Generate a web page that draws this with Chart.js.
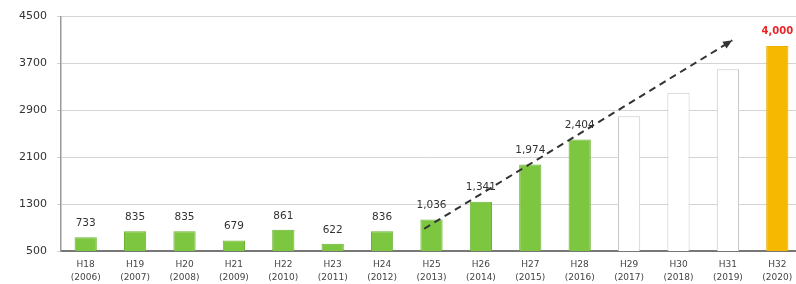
<!DOCTYPE html>
<html>
<head>
<meta charset="utf-8">
<script src="https://cdn.jsdelivr.net/npm/chart.js@4/dist/chart.umd.min.js"></script>
<style>
    html, body { margin: 0; padding: 0; background: #fff; overflow: hidden; }
    #wrap { width: 802px; height: 284px; }
</style>
</head>
<body>
<div id="wrap"><canvas id="stat-bar" width="802" height="284"></canvas></div>
<script>
// fiscal year (Heisei) + western year
const eras = ['H18', 'H19', 'H20', 'H21', 'H22', 'H23', 'H24', 'H25', 'H26', 'H27', 'H28', 'H29', 'H30', 'H31', 'H32'];
const years = ['(2006)', '(2007)', '(2008)', '(2009)', '(2010)', '(2011)', '(2012)', '(2013)', '(2014)', '(2015)', '(2016)', '(2017)', '(2018)', '(2019)', '(2020)'];
const values = [733, 835, 835, 679, 861, 622, 836, 1036, 1341, 1974, 2404, 2800, 3200, 3600, 4000];
const kinds = ['actual', 'actual', 'actual', 'actual', 'actual', 'actual', 'actual', 'actual', 'actual', 'actual', 'actual', 'plan', 'plan', 'plan', 'target'];
const yTicks = [500, 1300, 2100, 2900, 3700, 4500];

// dashed trend arrow (x in category index units)
const trendX = [6.83, 13.96];
const trendY = [880, 4095];

const fill = { actual: '#7dc63f', plan: '#ffffff', target: '#f6b800' };
const edge = { actual: '#6cb233', plan: '#c9c9c9', target: '#e9ad00' };

const valueLabels = {
    id: 'valueLabels',
    afterDatasetsDraw(chart) {
        const ctx = chart.ctx;
        const meta = chart.getDatasetMeta(0);
        ctx.save();
        ctx.textAlign = 'center';
        ctx.textBaseline = 'middle';
        meta.data.forEach((bar, i) => {
            if (kinds[i] === 'plan') return;
            if (kinds[i] === 'target') {
                ctx.font = 'bold 10px "DejaVu Sans"';
                ctx.fillStyle = '#e8262a';
            } else {
                ctx.font = '10.5px "DejaVu Sans"';
                ctx.fillStyle = '#333';
            }
            ctx.fillText(values[i].toLocaleString('en-US'), bar.x, bar.y - 14);
        });

        // arrow head on the trend line
        const pts = chart.getDatasetMeta(1).data;
        const a = pts[0], b = pts[pts.length - 1];
        const ang = Math.atan2(b.y - a.y, b.x - a.x);
        ctx.fillStyle = '#333';
        ctx.beginPath();
        ctx.moveTo(b.x, b.y);
        ctx.lineTo(b.x - 10 * Math.cos(ang - 0.4), b.y - 10 * Math.sin(ang - 0.4));
        ctx.lineTo(b.x - 10 * Math.cos(ang + 0.4), b.y - 10 * Math.sin(ang + 0.4));
        ctx.closePath();
        ctx.fill();
        ctx.restore();
    }
};

window.addEventListener('load', function() {
    const ctx = document.getElementById('stat-bar').getContext('2d');
    new Chart(ctx, {
        type: 'bar',
        data: {
            labels: eras.map((e, i) => [e, years[i]]),
            datasets: [
                {
                    type: 'bar',
                    data: values,
                    backgroundColor: kinds.map(k => fill[k]),
                    borderColor: kinds.map(k => edge[k]),
                    borderWidth: 1,
                    borderSkipped: 'bottom',
                    grouped: false,
                    barPercentage: 0.45,
                    categoryPercentage: 1,
                    order: 2
                },
                {
                    type: 'line',
                    xAxisID: 'xt',
                    data: trendX.map((x, i) => ({ x: x, y: trendY[i] })),
                    borderColor: '#333',
                    borderWidth: 2,
                    borderDash: [7, 5],
                    pointRadius: 0,
                    fill: false,
                    order: 1
                }
            ]
        },
        options: {
            responsive: false,
            animation: false,
            layout: { padding: { top: 14, right: 0, bottom: 0, left: 0 } },
            plugins: {
                legend: { display: false },
                tooltip: { enabled: false }
            },
            scales: {
                x: {
                    offset: true,
                    grid: { display: false, drawTicks: false },
                    border: { color: '#777', width: 2 },
                    ticks: {
                        color: '#444',
                        padding: 7,
                        maxRotation: 0,
                        autoSkip: false,
                        font: { family: 'DejaVu Sans', size: 9, lineHeight: 1.45 }
                    },
                    afterFit(scale) { scale.height = 33; }
                },
                xt: {
                    type: 'linear',
                    display: false,
                    min: -0.5,
                    max: 14.5
                },
                y: {
                    min: 500,
                    max: 4500,
                    afterBuildTicks(scale) { scale.ticks = yTicks.map(v => ({ value: v })); },
                    grid: { color: '#d4d4d4', lineWidth: 1, tickLength: 4 },
                    border: { color: '#999', width: 1.5 },
                    ticks: {
                        color: '#333',
                        padding: 10,
                        font: { family: 'DejaVu Sans', size: 11 },
                        callback: v => String(v)
                    },
                    afterFit(scale) { scale.width = 61; }
                }
            }
        },
        plugins: [valueLabels]
    });
});
</script>
</body>
</html>
